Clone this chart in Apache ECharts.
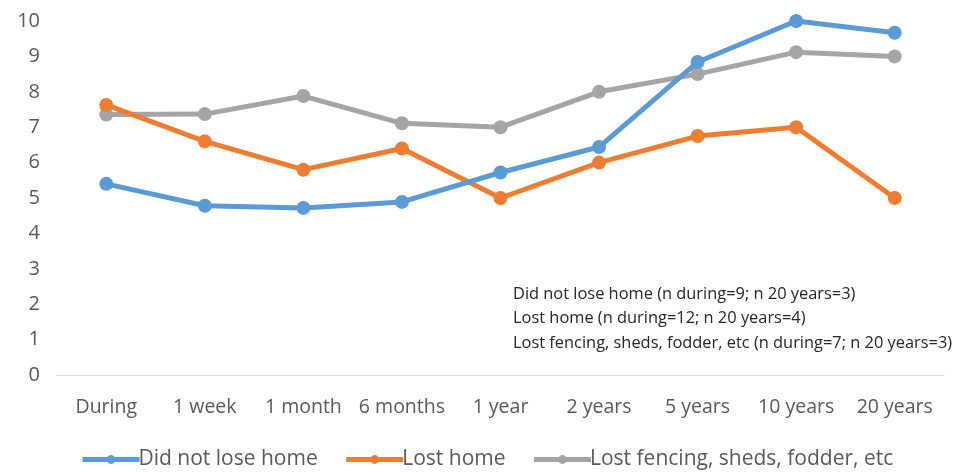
<!DOCTYPE html>
<html><head><meta charset="utf-8">
<script src="https://cdn.jsdelivr.net/npm/echarts@6/dist/echarts.min.js"></script>
<style>html,body{margin:0;padding:0;background:#fff}#c{width:957px;height:472px}</style>
</head><body><div id="c"></div>
<script>
const categories = ["During","1 week","1 month","6 months","1 year","2 years","5 years","10 years","20 years"];
const didNotLoseHome = [5.4,4.78,4.72,4.89,5.72,6.44,8.84,10,9.67];
const lostHome = [7.63,6.6,5.8,6.4,5,6,6.75,7,5];
const lostFencing = [7.36,7.37,7.88,7.11,7,8,8.5,9.12,9];
const seriesNames = ["Did not lose home","Lost home","Lost fencing, sheds, fodder, etc"];
const colors = ["#5B9BD5","#ED7D31","#A5A5A5"];
const notes = ["Did not lose home (n during=9; n 20 years=3)","Lost home (n during=12; n 20 years=4)","Lost fencing, sheds, fodder, etc (n during=7; n 20 years=3)"];
const font = "Open Sans";
const chart = echarts.init(document.getElementById('c'));
const mk = (name, data, i) => ({
  name, type:'line', data, symbol:'circle', symbolSize:14, showSymbol:true,
  lineStyle:{width:5,color:colors[i]}, itemStyle:{color:colors[i]},
  emphasis:{disabled:true}, animation:false, z: 3 - i
});
chart.setOption({
  animation:false,
  textStyle:{fontFamily:font},
  grid:{left:57,right:13,top:21,bottom:97},
  xAxis:{type:'category',data:categories,boundaryGap:true,
    axisLine:{lineStyle:{color:'#D9D9D9',width:1}},axisTick:{show:false},
    axisLabel:{color:'#595959',fontSize:19.5,fontFamily:font,margin:22,interval:0,hideOverlap:false}},
  yAxis:{type:'value',min:0,max:10,interval:1,
    splitLine:{show:false},axisLine:{show:false},axisTick:{show:false},
    axisLabel:{color:'#595959',fontSize:20,fontFamily:font,margin:17}},
  legend:{top:444,left:75,itemWidth:57,itemHeight:11,itemGap:26,
    lineStyle:{width:5},
    textStyle:{color:'#595959',fontSize:21,fontFamily:font,padding:[0,0,0,-6]},
    data:seriesNames},
  series:[mk(seriesNames[0],didNotLoseHome,0),mk(seriesNames[1],lostHome,1),mk(seriesNames[2],lostFencing,2)],
  graphic: notes.map((t,i)=>({type:'text',left:513,top:286+i*24.5,
    style:{text:t,fill:'#262626',font:'16.4px '+font}}))
});
</script></body></html>
